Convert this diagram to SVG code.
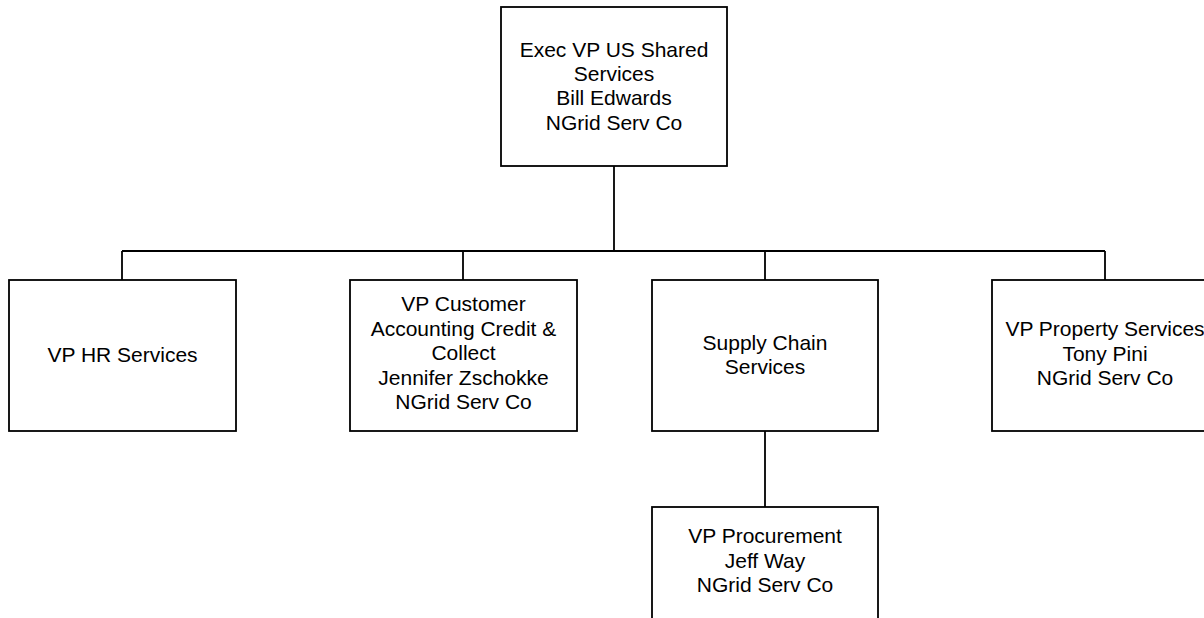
<svg xmlns="http://www.w3.org/2000/svg" width="1204" height="618" viewBox="0 0 1204 618">
<style>
.box{fill:#ffffff;stroke:#000000;stroke-width:1.8}
.conn{fill:none;stroke:#000000;stroke-width:1.8}
text{font-family:"Liberation Sans",Arial,sans-serif;font-size:21px;fill:#000000;text-anchor:middle}
</style>
<rect width="1204" height="618" fill="#ffffff"/>
<g id="connectors">
<path class="conn" d="M614,166 V251 M122,251 H1105 M122,251 V280 M463,251 V280 M765,251 V280 M1105,251 V280 M765,431 V507"/>
</g>
<g id="exec-vp">
<rect class="box" x="501" y="7" width="226" height="159"/>
<text x="614" y="57">Exec VP US Shared</text>
<text x="614" y="81">Services</text>
<text x="614" y="105">Bill Edwards</text>
<text x="614" y="129.5">NGrid Serv Co</text>
</g>
<g id="vp-hr">
<rect class="box" x="9" y="280" width="227" height="151"/>
<text x="122.5" y="362">VP HR Services</text>
</g>
<g id="vp-customer">
<rect class="box" x="350" y="280" width="227" height="151"/>
<text x="463.5" y="311">VP Customer</text>
<text x="463.5" y="335.5">Accounting Credit &amp;</text>
<text x="463.5" y="360">Collect</text>
<text x="463.5" y="384.5">Jennifer Zschokke</text>
<text x="463.5" y="409">NGrid Serv Co</text>
</g>
<g id="supply-chain">
<rect class="box" x="652" y="280" width="226" height="151"/>
<text x="765" y="349.5">Supply Chain</text>
<text x="765" y="374">Services</text>
</g>
<g id="vp-property">
<rect class="box" x="992" y="280" width="227" height="151"/>
<text x="1105" y="336">VP Property Services</text>
<text x="1105" y="360.5">Tony Pini</text>
<text x="1105" y="385">NGrid Serv Co</text>
</g>
<g id="vp-procurement">
<rect class="box" x="652" y="507" width="226" height="151"/>
<text x="765" y="543">VP Procurement</text>
<text x="765" y="567.5">Jeff Way</text>
<text x="765" y="592">NGrid Serv Co</text>
</g>
</svg>
